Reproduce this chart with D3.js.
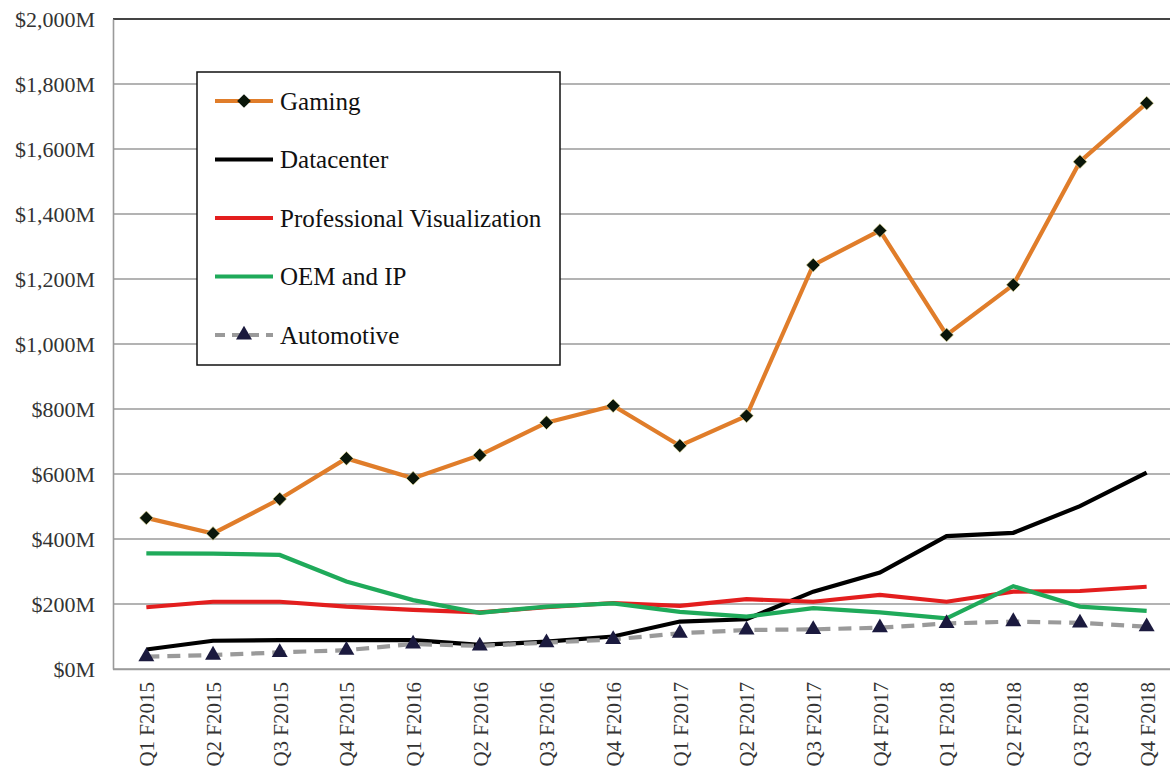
<!DOCTYPE html>
<html>
<head>
<meta charset="utf-8">
<script src="https://cdn.jsdelivr.net/npm/d3@7"></script>
<style>
html,body{margin:0;padding:0;background:#fff;}
svg{display:block;}
text{font-family:"Liberation Serif","DejaVu Serif",serif;}
</style>
</head>
<body>
<svg id="chart" width="1170" height="771"></svg>
<script>
const categories = ["Q1 F2015","Q2 F2015","Q3 F2015","Q4 F2015","Q1 F2016","Q2 F2016","Q3 F2016","Q4 F2016","Q1 F2017","Q2 F2017","Q3 F2017","Q4 F2017","Q1 F2018","Q2 F2018","Q3 F2018","Q4 F2018"];
const gaming = [465, 417, 523, 648, 587, 658, 758, 810, 687, 779, 1243, 1349, 1028, 1182, 1561, 1741];
const datacenter = [60, 87, 89, 89, 89, 74, 84, 100, 146, 153, 238, 297, 409, 419, 501, 604];
const proviz = [190, 207, 207, 192, 182, 174, 190, 203, 194, 215, 207, 228, 207, 238, 240, 253];
const oemip = [356, 355, 351, 269, 212, 173, 192, 202, 176, 161, 187, 174, 156, 255, 192, 179];
const automotive = [38, 43, 51, 58, 77, 71, 81, 91, 110, 120, 122, 127, 140, 146, 142, 130];
const yTicks = [0,200,400,600,800,1000,1200,1400,1600,1800,2000];
const seriesNames = ["Gaming","Datacenter","Professional Visualization","OEM and IP","Automotive"];

const svg = d3.select("#chart");
const plotL = 113, plotR = 1180, plotT = 19, plotB = 669;

const x = d3.scalePoint().domain(categories).range([plotL, plotR]).padding(0.5);
const y = d3.scaleLinear().domain([0, 2000]).range([plotB, plotT]);

// gridlines
svg.append("g").selectAll("line").data(yTicks).join("line")
  .attr("x1", plotL).attr("x2", 1170)
  .attr("y1", d => y(d)).attr("y2", d => y(d))
  .attr("stroke", d => d === 2000 ? "#444" : "#9a9a9a")
  .attr("stroke-width", d => d === 2000 ? 2 : 1.6);

// y axis
const yAxis = svg.append("g").attr("transform", `translate(${plotL},0)`)
  .call(d3.axisLeft(y).tickValues(yTicks).tickSize(0).tickPadding(18)
    .tickFormat(d => "$" + d3.format(",")(d) + "M"));
yAxis.select(".domain").attr("stroke", "#9a9a9a").attr("stroke-width", 1.6);
yAxis.selectAll("text").attr("font-size", 22).attr("fill", "#333")
  .attr("font-family", '"Liberation Serif","DejaVu Serif",serif');

// x axis
const xAxis = svg.append("g").attr("transform", `translate(0,${plotB})`)
  .call(d3.axisBottom(x).tickSize(0));
xAxis.select(".domain").attr("stroke", "#9a9a9a").attr("stroke-width", 1.6)
  .attr("d", `M${plotL},0.5H1170`);
xAxis.selectAll("text")
  .attr("font-size", 21).attr("fill", "#333")
  .attr("font-family", '"Liberation Serif","DejaVu Serif",serif')
  .attr("text-anchor", "end")
  .attr("transform", "translate(0,13) rotate(-90)")
  .attr("x", 0).attr("y", 0).attr("dy", "0.35em");

const line = d3.line().x((d, i) => x(categories[i])).y(d => y(d));

const styles = {
  "Gaming": {data: gaming, color: "#E07D2A", dash: null},
  "Datacenter": {data: datacenter, color: "#000000", dash: null},
  "Professional Visualization": {data: proviz, color: "#E31E1E", dash: null},
  "OEM and IP": {data: oemip, color: "#1FAA5A", dash: null},
  "Automotive": {data: automotive, color: "#9a9a9a", dash: "13,8"}
};
const drawOrder = ["Datacenter","Professional Visualization","OEM and IP","Automotive","Gaming"];
const diamond = d3.symbol().type(d3.symbolDiamond2).size(120);
const tri = d3.symbol().type(d3.symbolTriangle).size(110);

drawOrder.forEach(name => {
  const s = styles[name];
  svg.append("path").datum(s.data)
    .attr("d", line).attr("fill", "none")
    .attr("stroke", s.color).attr("stroke-width", 4.2)
    .attr("stroke-dasharray", s.dash);
  if (name === "Gaming") {
    svg.append("g").selectAll("path").data(s.data).join("path")
      .attr("d", diamond)
      .attr("transform", (d, i) => `translate(${x(categories[i])},${y(d)})`)
      .attr("fill", "#0a160a").attr("stroke", "#f3e7a0").attr("stroke-width", 0.6);
  }
  if (name === "Automotive") {
    svg.append("g").selectAll("path").data(s.data).join("path")
      .attr("d", tri)
      .attr("transform", (d, i) => `translate(${x(categories[i])},${y(d)})`)
      .attr("fill", "#1b1a3e");
  }
});

// legend
const lg = svg.append("g");
lg.append("rect").attr("x", 197).attr("y", 72).attr("width", 363).attr("height", 293)
  .attr("fill", "#fff").attr("stroke", "#111").attr("stroke-width", 1.5);
const rowY = d3.scalePoint().domain(seriesNames).range([101, 335]);
seriesNames.forEach(name => {
  const s = styles[name];
  const cy = rowY(name);
  lg.append("line").attr("x1", 215).attr("x2", 273).attr("y1", cy).attr("y2", cy)
    .attr("stroke", s.color).attr("stroke-width", 4.2)
    .attr("stroke-dasharray", name === "Automotive" ? "10,7" : null);
  if (name === "Gaming") {
    lg.append("path").attr("d", diamond).attr("transform", `translate(244,${cy})`)
      .attr("fill", "#0a160a");
  }
  if (name === "Automotive") {
    lg.append("path").attr("d", tri).attr("transform", `translate(244,${cy})`)
      .attr("fill", "#1b1a3e");
  }
  lg.append("text").attr("x", 280).attr("y", cy).attr("dy", "0.35em")
    .attr("font-size", 25).attr("fill", "#111").text(name);
});
</script>
</body>
</html>
